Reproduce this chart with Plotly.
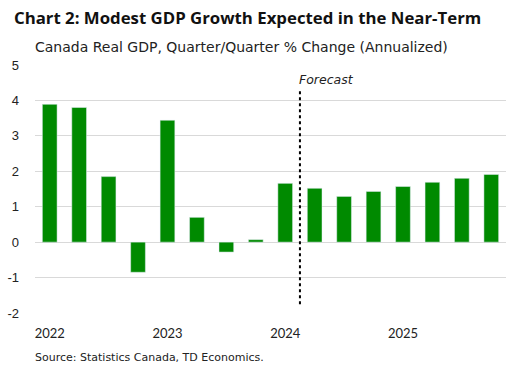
import plotly.graph_objects as go

quarters = ["2022Q1","2022Q2","2022Q3","2022Q4","2023Q1","2023Q2","2023Q3","2023Q4",
            "2024Q1","2024Q2","2024Q3","2024Q4","2025Q1","2025Q2","2025Q3","2025Q4"]
gdp_growth = [3.89, 3.80, 1.85, -0.85, 3.44, 0.70, -0.28, 0.07,
              1.66, 1.52, 1.29, 1.43, 1.57, 1.69, 1.80, 1.91]
tick_labels = ["2022", "2023", "2024", "2025"]
tick_positions = [0, 4, 8, 12]
y_ticks = [-2, -1, 0, 1, 2, 3, 4, 5]
y_tick_labels = ["-2", "-1", "0", "1", "2", "3", "4", "5"]
forecast_split = 8.5

x = list(range(len(quarters)))

W, H = 516, 385
L, R, T, B = 35, 10, 65, 72
pw, ph = W - L - R, H - T - B

def px_x(px):
    return (px - L) / pw

def px_y(py):
    return (H - B - py) / ph

fig = go.Figure()
fig.add_trace(go.Bar(x=x, y=gdp_growth, marker_color="#008a00", width=0.5,
                     hovertext=quarters))

fig.add_shape(type="line", x0=forecast_split, x1=forecast_split, y0=-1.75, y1=4.27,
              xref="x", yref="y", line=dict(color="black", width=2, dash="dot"))
fig.add_annotation(x=forecast_split, y=4.58, xref="x", yref="y", text="<i>Forecast</i>",
                   showarrow=False, xanchor="left", yanchor="middle", xshift=-3,
                   font=dict(size=12.5, color="#222", family="DejaVu Sans, sans-serif"))
fig.add_annotation(text="Canada Real GDP, Quarter/Quarter % Change (Annualized)",
                   x=px_x(33), y=px_y(47), xref="paper", yref="paper",
                   xanchor="left", yanchor="middle", showarrow=False,
                   font=dict(size=14, color="#222", family="DejaVu Sans, sans-serif"))
fig.add_annotation(text="Source: Statistics Canada, TD Economics.",
                   x=px_x(33), y=px_y(357), xref="paper", yref="paper",
                   xanchor="left", yanchor="middle", showarrow=False,
                   font=dict(size=11, color="#222", family="DejaVu Sans, sans-serif"))

fig.update_layout(
    width=W, height=H,
    margin=dict(l=L, r=R, t=T, b=B, autoexpand=False),
    plot_bgcolor="white", paper_bgcolor="white",
    font=dict(family="Lato, Open Sans, sans-serif", color="#222"),
    showlegend=False,
    title=dict(text="<b>Chart 2: Modest GDP Growth Expected in the Near-Term</b>",
               x=14/W, xanchor="left", y=1-18/H, yanchor="middle",
               font=dict(size=16.8, color="#111", family="Open Sans, sans-serif")),
    xaxis=dict(range=[-0.5, 15.5], tickmode="array", tickvals=tick_positions,
               ticktext=tick_labels, showgrid=False, zeroline=False, showline=False,
               ticks="", tickfont=dict(size=13, color="#222"), automargin=False,
               ticklabelstandoff=11),
    yaxis=dict(range=[-2, 5], tickmode="array", tickvals=y_ticks, ticktext=y_tick_labels,
               showgrid=True, gridcolor="#d9d9d9", gridwidth=1,
               zeroline=True, zerolinecolor="#d9d9d9", zerolinewidth=1,
               showline=False, ticks="", ticklabelstandoff=15, automargin=False,
               tickfont=dict(size=13, color="#222", family="Liberation Sans, Arial, sans-serif")),
)

fig.write_html("out.html", config={"displayModeBar": False},
               post_script="document.body.style.margin='0';document.body.style.padding='0';")
